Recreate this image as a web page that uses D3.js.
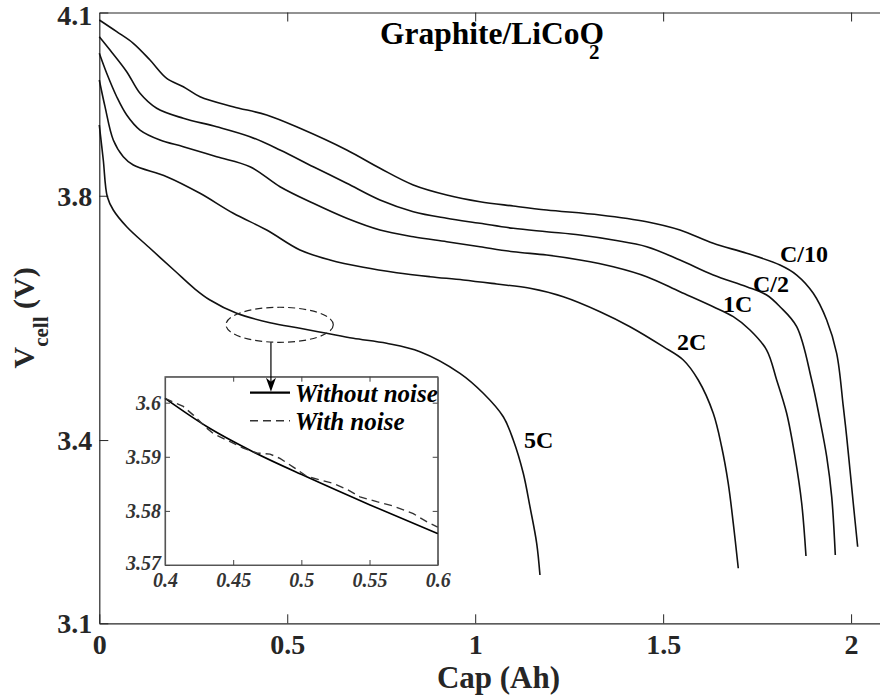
<!DOCTYPE html>
<html>
<head>
<meta charset="utf-8">
<script src="https://cdn.jsdelivr.net/npm/d3@7"></script>
<style>
  html, body { margin: 0; padding: 0; background: #fff; }
  svg { display: block; }
  text { font-family: "Liberation Serif", "Times New Roman", serif; }
</style>
</head>
<body>
<script>
// Discharge curves of a graphite/LiCoO2 cell at several C-rates
const capC10 = [0, 0.0463, 0.0904, 0.1349, 0.1793, 0.2235, 0.2679, 0.3557, 0.4453, 0.5339, 0.6582, 0.7467, 0.8353, 0.9242, 1.0128, 1.1013, 1.1902, 1.3320, 1.4562, 1.5448, 1.6333, 1.7222, 1.8108, 1.8553, 1.8994, 1.9351, 1.9616, 1.9793, 1.9882, 1.9971, 2.0058, 2.0175];
const voltC10 = [4.0877, 4.0686, 4.0496, 4.0222, 3.9923, 3.9785, 3.9621, 3.9458, 3.9322, 3.9104, 3.8749, 3.8449, 3.8176, 3.8012, 3.7902, 3.7832, 3.7767, 3.7685, 3.7575, 3.7439, 3.7221, 3.7058, 3.6866, 3.6702, 3.6403, 3.5966, 3.5420, 3.4546, 3.4055, 3.3510, 3.2965, 3.2254];

const capC2 = [0, 0.0285, 0.0729, 0.1083, 0.1527, 0.2235, 0.3123, 0.4009, 0.4807, 0.5693, 0.6582, 0.7467, 0.8353, 0.9242, 1.0128, 1.1013, 1.1902, 1.2788, 1.3673, 1.4562, 1.5448, 1.6333, 1.7222, 1.7754, 1.8108, 1.8553, 1.8951, 1.9172, 1.9351, 1.9484, 1.9580];
const voltC2 = [4.0604, 4.0386, 4.0031, 3.9677, 3.9432, 3.9268, 3.9130, 3.8967, 3.8749, 3.8475, 3.8204, 3.7930, 3.7739, 3.7631, 3.7549, 3.7467, 3.7411, 3.7357, 3.7275, 3.7166, 3.6948, 3.6702, 3.6511, 3.6375, 3.6183, 3.5856, 3.4983, 3.4328, 3.3728, 3.3073, 3.2118];

const cap1C = [0, 0.0197, 0.0463, 0.0729, 0.1083, 0.1615, 0.2235, 0.3123, 0.4009, 0.4807, 0.5693, 0.6582, 0.7467, 0.8353, 0.9242, 1.0128, 1.1013, 1.1902, 1.2788, 1.3673, 1.4562, 1.5448, 1.6333, 1.6866, 1.7310, 1.7754, 1.8020, 1.8286, 1.8507, 1.8686, 1.8800];
const volt1C = [4.0332, 4.0005, 3.9621, 3.9322, 3.9076, 3.8913, 3.8803, 3.8639, 3.8475, 3.8148, 3.7876, 3.7631, 3.7439, 3.7329, 3.7248, 3.7166, 3.7084, 3.7030, 3.6948, 3.6838, 3.6675, 3.6429, 3.6183, 3.6020, 3.5802, 3.5474, 3.4983, 3.4438, 3.3728, 3.2965, 3.2102];

const cap2C = [0, 0.0152, 0.0372, 0.0638, 0.0904, 0.1793, 0.2679, 0.3565, 0.4453, 0.5339, 0.6137, 0.7023, 0.7911, 0.8797, 0.9683, 1.0572, 1.1457, 1.2343, 1.3320, 1.4118, 1.5003, 1.5536, 1.5934, 1.6333, 1.6556, 1.6732, 1.6866, 1.6999];
const volt2C = [3.9895, 3.9458, 3.8913, 3.8639, 3.8503, 3.8312, 3.8040, 3.7713, 3.7439, 3.7112, 3.6948, 3.6828, 3.6740, 3.6675, 3.6621, 3.6555, 3.6485, 3.6347, 3.6102, 3.5856, 3.5529, 3.5311, 3.4983, 3.4438, 3.3891, 3.3292, 3.2637, 3.1901];

const cap5C = [0, 0.0106, 0.0213, 0.0372, 0.0729, 0.1349, 0.2014, 0.2546, 0.2945, 0.3655, 0.4541, 0.5339, 0.6049, 0.6757, 0.7645, 0.8531, 0.9595, 1.0215, 1.0747, 1.1013, 1.1279, 1.1457, 1.1636, 1.1723];
const volt5C = [3.9158, 3.8585, 3.7984, 3.7767, 3.7493, 3.7140, 3.6768, 3.6473, 3.6293, 3.6075, 3.5921, 3.5830, 3.5748, 3.5666, 3.5584, 3.5447, 3.5093, 3.4766, 3.4382, 3.4001, 3.3456, 3.2909, 3.2310, 3.1791];

const rateNames = ["C/10", "C/2", "1C", "2C", "5C"];
// where each rate name is written, in (Ah, V)
const labelCap = [1.811, 1.739, 1.659, 1.537, 1.130];
const labelVolt = [3.6915, 3.6429, 3.6102, 3.5474, 3.3875];

// zoomed 5C segment, 0.4 to 0.6 Ah
const capClean = [0.4, 0.4306, 0.4648, 0.5039, 0.5504, 0.6];
const voltClean = [3.6008, 3.5956, 3.5909, 3.5863, 3.5811, 3.5758];
const capNoisy = [0.4, 0.4134, 0.4208, 0.4306, 0.4354, 0.4452, 0.4574, 0.4672, 0.4770, 0.4843, 0.4941, 0.5039, 0.5137, 0.5234, 0.5333, 0.5430, 0.5553, 0.5674, 0.5821, 0.5919, 0.6];
const voltNoisy = [3.6008, 3.5993, 3.5977, 3.5953, 3.5943, 3.5931, 3.5916, 3.5907, 3.5905, 3.5897, 3.5881, 3.5864, 3.5857, 3.5851, 3.5840, 3.5826, 3.5817, 3.5809, 3.5795, 3.5780, 3.5770];

const xTicks = [0, 0.5, 1, 1.5, 2];
const yTicks = [3.1, 3.4, 3.8, 4.1];
const insetXTicks = [0.4, 0.45, 0.5, 0.55, 0.6];
const insetYTicks = [3.57, 3.58, 3.59, 3.6];

const series = [
  [capC10, voltC10], [capC2, voltC2], [cap1C, volt1C], [cap2C, volt2C], [cap5C, volt5C]
].map(([c, v]) => c.map((d, i) => [d, v[i]]));

const W = 880, H = 700;
const axisColor = "#262626";
const svg = d3.select("body").append("svg").attr("width", W).attr("height", H);
svg.append("rect").attr("width", W).attr("height", H).attr("fill", "#fff");

const x = d3.scaleLinear().domain([0, 2.124]).range([99.3, 897.7]);
const y = d3.scaleLinear().domain([3.1, 4.1]).range([623.3, 12.5]);

// axes: bottom and left carry labels, top only ticks
const gx = svg.append("g").attr("transform", `translate(0,${y(3.1)})`)
  .call(d3.axisBottom(x).tickValues(xTicks).tickSize(-9).tickSizeOuter(0).tickFormat(d => String(d)));
const gxt = svg.append("g").attr("transform", `translate(0,${y(4.1)})`)
  .call(d3.axisTop(x).tickValues(xTicks.slice(1)).tickSize(-9).tickSizeOuter(0).tickFormat(""));
const gy = svg.append("g").attr("transform", `translate(${x(0)},0)`)
  .call(d3.axisLeft(y).tickValues(yTicks).tickSize(-9).tickSizeOuter(0).tickFormat(d => d.toFixed(1)));

[gx, gxt, gy].forEach(g => {
  g.selectAll("path.domain").attr("stroke", axisColor).attr("stroke-width", 1.2);
  g.selectAll(".tick line").attr("stroke", axisColor).attr("stroke-width", 1);
});
gx.selectAll(".tick text")
  .attr("y", 0).attr("dy", 31)
  .attr("font-size", 28).attr("font-weight", "bold").attr("fill", axisColor)
  .attr("font-family", "Liberation Serif, serif");
gy.selectAll(".tick text")
  .attr("x", -7).attr("dy", d => d === 4.1 ? "0.42em" : "0.34em")
  .attr("font-size", 28).attr("font-weight", "bold").attr("fill", axisColor)
  .attr("font-family", "Liberation Serif, serif");

// axis titles
svg.append("text")
  .attr("x", (x.range()[0] + x.range()[1]) / 2).attr("y", 688)
  .attr("text-anchor", "middle").attr("font-size", 31).attr("font-weight", "bold")
  .attr("fill", axisColor).text("Cap (Ah)");

const yl = svg.append("text")
  .attr("transform", `translate(34,${(y.range()[0] + y.range()[1]) / 2}) rotate(-90)`)
  .attr("text-anchor", "middle").attr("font-size", 30).attr("font-weight", "bold")
  .attr("fill", axisColor);
yl.append("tspan").text("V");
yl.append("tspan").attr("font-size", 21).attr("dy", 14).text("cell");
yl.append("tspan").attr("dy", -14).text(" (V)");

// title, with the subscript tucked under the final O
const title = svg.append("text").attr("x", 380).attr("y", 44)
  .attr("font-size", 31.5).attr("font-weight", "bold").attr("fill", "#000");
title.append("tspan").text("Graphite/LiCoO");
title.append("tspan").attr("font-size", 21).attr("dx", -15).attr("dy", 15).text("2");

// discharge curves
const line = d3.line().x(d => x(d[0])).y(d => y(d[1])).curve(d3.curveCatmullRom.alpha(0.5));
svg.append("g").selectAll("path").data(series).join("path")
  .attr("d", line).attr("fill", "none").attr("stroke", "#111").attr("stroke-width", 1.6)
  .attr("stroke-linejoin", "round");

svg.append("g").selectAll("text").data(rateNames).join("text")
  .attr("x", (d, i) => x(labelCap[i])).attr("y", (d, i) => y(labelVolt[i]))
  .attr("font-size", 24).attr("font-weight", "bold").attr("fill", "#000")
  .text(d => d);

// dashed ellipse marking the zoomed region on the 5C curve
const ex0 = x(0.337), ex1 = x(0.6225), ey0 = y(3.6174), ey1 = y(3.5600);
svg.append("ellipse")
  .attr("cx", (ex0 + ex1) / 2).attr("cy", (ey0 + ey1) / 2)
  .attr("rx", (ex1 - ex0) / 2).attr("ry", (ey1 - ey0) / 2)
  .attr("fill", "none").attr("stroke", "#222").attr("stroke-width", 1.2)
  .attr("stroke-dasharray", "7,4");

// inset
const ix = d3.scaleLinear().domain([0.4, 0.6]).range([165, 437.7]);
const iy = d3.scaleLinear().domain([3.57, 3.6048]).range([565, 376.7]);
const inset = svg.append("g");
inset.append("rect")
  .attr("x", ix(0.4)).attr("y", iy.range()[1])
  .attr("width", ix(0.6) - ix(0.4)).attr("height", iy.range()[0] - iy.range()[1])
  .attr("fill", "#fff").attr("stroke", "#777").attr("stroke-width", 1.2);

const ib = inset.append("g").attr("transform", `translate(0,${iy(3.57)})`)
  .call(d3.axisBottom(ix).tickValues(insetXTicks).tickSize(-5).tickSizeOuter(0).tickFormat(d => String(d)));
const it = inset.append("g").attr("transform", `translate(0,${iy.range()[1]})`)
  .call(d3.axisTop(ix).tickValues(insetXTicks.slice(1, -1)).tickSize(-5).tickSizeOuter(0).tickFormat(""));
const il = inset.append("g").attr("transform", `translate(${ix(0.4)},0)`)
  .call(d3.axisLeft(iy).tickValues(insetYTicks).tickSize(-5).tickSizeOuter(0).tickFormat(d => String(d)));
const ir = inset.append("g").attr("transform", `translate(${ix(0.6)},0)`)
  .call(d3.axisRight(iy).tickValues(insetYTicks.slice(1)).tickSize(-5).tickSizeOuter(0).tickFormat(""));
[ib, it, il, ir].forEach(g => {
  g.selectAll("path.domain").attr("stroke", "#555").attr("stroke-width", 1.2);
  g.selectAll(".tick line").attr("stroke", "#444");
});
ib.selectAll(".tick text").attr("y", 0).attr("dy", 22)
  .attr("font-size", 20).attr("font-weight", "bold").attr("font-style", "italic")
  .attr("fill", "#333").attr("font-family", "Liberation Serif, serif");
il.selectAll(".tick text").attr("x", -4).attr("dy", d => d === 3.57 ? "0.2em" : "0.34em")
  .attr("font-size", 20).attr("font-weight", "bold").attr("font-style", "italic")
  .attr("fill", "#333").attr("font-family", "Liberation Serif, serif");

const cleanPts = capClean.map((d, i) => [d, voltClean[i]]);
const noisyPts = capNoisy.map((d, i) => [d, voltNoisy[i]]);
inset.append("path")
  .attr("d", d3.line().x(d => ix(d[0])).y(d => iy(d[1])).curve(d3.curveMonotoneX)(cleanPts))
  .attr("fill", "none").attr("stroke", "#000").attr("stroke-width", 1.6);
inset.append("path")
  .attr("d", d3.line().x(d => ix(d[0])).y(d => iy(d[1]))(noisyPts))
  .attr("fill", "none").attr("stroke", "#333").attr("stroke-width", 1.4)
  .attr("stroke-dasharray", "8,5");

// inset legend
const legend = inset.append("g");
legend.append("line").attr("x1", 250).attr("x2", 290).attr("y1", 392.7).attr("y2", 392.7)
  .attr("stroke", "#000").attr("stroke-width", 2.2);
legend.append("line").attr("x1", 250).attr("x2", 290).attr("y1", 420.7).attr("y2", 420.7)
  .attr("stroke", "#333").attr("stroke-width", 1.4).attr("stroke-dasharray", "8,5");
legend.append("text").attr("x", 295).attr("y", 401.5)
  .attr("font-size", 25).attr("font-weight", "bold").attr("font-style", "italic")
  .attr("fill", "#000").text("Without noise");
legend.append("text").attr("x", 295).attr("y", 430)
  .attr("font-size", 25).attr("font-weight", "bold").attr("font-style", "italic")
  .attr("fill", "#000").text("With noise");

// arrow from the ellipse down into the inset
const ax = x(0.4566);
const tipY = iy.range()[1] + 15;
svg.append("line").attr("x1", ax).attr("x2", ax).attr("y1", ey1)
  .attr("y2", tipY - 4).attr("stroke", "#000").attr("stroke-width", 1.2);
svg.append("path")
  .attr("d", `M${ax},${tipY} L${ax - 5},${tipY - 14} L${ax},${tipY - 10} L${ax + 5},${tipY - 14} Z`)
  .attr("fill", "#000");
</script>
</body>
</html>
